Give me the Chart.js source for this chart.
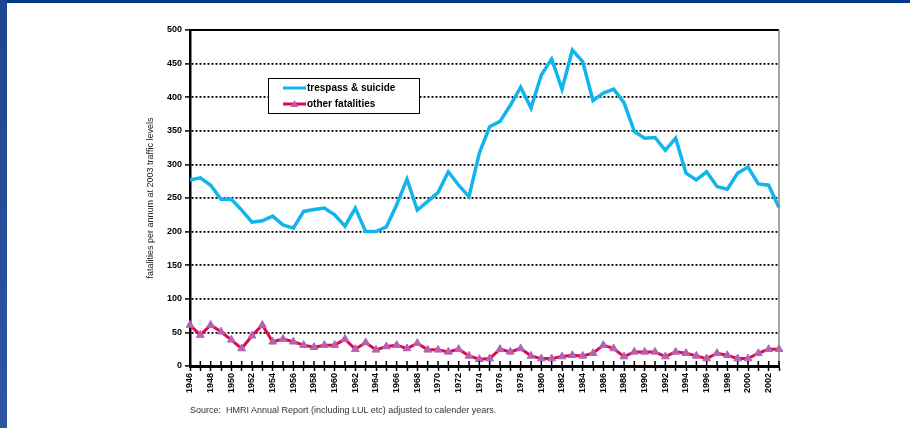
<!DOCTYPE html>
<html>
<head>
<meta charset="utf-8">
<script src="https://cdn.jsdelivr.net/npm/chart.js@4.4.1/dist/chart.umd.min.js"></script>
<style>
  html, body { margin: 0; padding: 0; background: #fff; }
  #wrap { position: relative; width: 910px; height: 428px; overflow: hidden; background: #fff; }
  #topbar { position: absolute; left: 0; top: 0; width: 910px; height: 3px; background: #003a85; }
  #leftbar { position: absolute; left: 0; top: 0; width: 7px; height: 428px; background: linear-gradient(#1f4690, #2d55a2); }
  #chart { position: absolute; left: 0; top: 0; }
  #source { position: absolute; left: 190px; top: 405px; font: 9px Arial, "Liberation Sans", sans-serif; color: #333; white-space: pre; }
</style>
</head>
<body>
<div id="wrap">
  <canvas id="chart" width="910" height="428"></canvas>
  <div id="topbar"></div>
  <div id="leftbar"></div>
  <div id="source">Source:  HMRI Annual Report (including LUL etc) adjusted to calender years.</div>
</div>
<script>
// years 1946 - 2003
var years = [];
for (var y = 1946; y <= 2003; y++) years.push(String(y));

// fatalities per annum at 2003 traffic levels
var trespassSuicide = [
    277, 280, 269, 248, 248, 232, 214, 216, 223, 210,
    205, 230, 233, 235, 225, 208, 235, 200, 200, 207,
    240, 278, 232, 245, 258, 289, 269, 252, 317, 356,
    364, 388, 415, 384, 433, 457, 412, 470, 453, 395,
    406, 412, 392, 349, 339, 340, 321, 339, 287, 277,
    289, 267, 263, 287, 296, 271, 269, 236
];
var otherFatalities = [
    61, 46, 61, 51, 39, 26, 45, 61, 36, 40,
    36, 31, 28, 31, 31, 40, 25, 35, 24, 29,
    31, 26, 34, 24, 24, 21, 25, 15, 10, 11,
    25, 21, 26, 15, 11, 11, 14, 16, 15, 19,
    31, 26, 14, 21, 21, 21, 14, 21, 19, 15,
    11, 19, 16, 11, 11, 19, 25, 25
];
var yTicks = { min: 0, max: 500, step: 50 };

// top and right edge of the plot area
var plotFrame = {
    id: 'plotFrame',
    afterDraw: function (chart) {
        var a = chart.chartArea, ctx = chart.ctx;
        ctx.save();
        ctx.strokeStyle = '#000';
        ctx.lineWidth = 2;
        ctx.beginPath();
        ctx.moveTo(a.left, a.top);
        ctx.lineTo(a.right, a.top);
        ctx.stroke();
        ctx.strokeStyle = '#888';
        ctx.lineWidth = 1.5;
        ctx.beginPath();
        ctx.moveTo(a.right, a.top);
        ctx.lineTo(a.right, a.bottom);
        ctx.stroke();
        // year ticks cross the axis
        var xs = chart.scales.x;
        ctx.strokeStyle = '#000';
        ctx.lineWidth = 1.5;
        ctx.beginPath();
        for (var i = 0; i < years.length; i++) {
            var px = xs.getPixelForTick(i);
            ctx.moveTo(px, a.bottom - 5);
            ctx.lineTo(px, a.bottom);
        }
        ctx.stroke();
        ctx.restore();
    }
};

// legend box inside the plot
var boxLegend = {
    id: 'boxLegend',
    afterDraw: function (chart) {
        var ctx = chart.ctx;
        var x = 268, y = 78, w = 151, h = 35;
        ctx.save();
        ctx.fillStyle = '#fff';
        ctx.fillRect(x, y, w, h);
        ctx.strokeStyle = '#000';
        ctx.lineWidth = 1;
        ctx.strokeRect(x + 0.5, y + 0.5, w, h);
        ctx.font = 'bold 10px Arial, "Liberation Sans", sans-serif';
        ctx.textBaseline = 'middle';
        chart.data.datasets.forEach(function (ds, i) {
            var ly = y + 10 + i * 16;
            ctx.strokeStyle = ds.borderColor;
            ctx.lineWidth = 3;
            ctx.beginPath();
            ctx.moveTo(x + 15, ly);
            ctx.lineTo(x + 38, ly);
            ctx.stroke();
            if (ds.pointRadius > 0) {
                ctx.fillStyle = ds.pointBackgroundColor;
                ctx.beginPath();
                ctx.moveTo(x + 26.5, ly - 4);
                ctx.lineTo(x + 30.5, ly + 3);
                ctx.lineTo(x + 22.5, ly + 3);
                ctx.closePath();
                ctx.fill();
            }
            ctx.fillStyle = '#000';
            ctx.fillText(ds.label, x + 39, ly);
        });
        ctx.restore();
    }
};

new Chart(document.getElementById('chart'), {
    type: 'line',
    data: {
        labels: years,
        datasets: [
            {
                label: 'trespass & suicide',
                data: trespassSuicide,
                borderColor: '#12b4ec',
                borderWidth: 3.5,
                pointRadius: 0,
                tension: 0,
                fill: false
            },
            {
                label: 'other fatalities',
                data: otherFatalities,
                borderColor: '#dc0a4e',
                borderWidth: 3,
                pointStyle: 'triangle',
                pointRadius: 4.5,
                pointBackgroundColor: '#b463b2',
                pointBorderColor: '#b463b2',
                pointBorderWidth: 1,
                tension: 0,
                fill: false
            }
        ]
    },
    options: {
        responsive: false,
        animation: false,
        layout: { padding: { left: 140, right: 131, top: 30, bottom: 20 } },
        plugins: {
            legend: { display: false },
            tooltip: { enabled: false }
        },
        scales: {
            x: {
                type: 'category',
                offset: false,
                afterFit: function (s) { s.height = 42; },
                border: { display: true, color: '#000', width: 3 },
                grid: {
                    display: true,
                    drawOnChartArea: false,
                    drawTicks: true,
                    tickLength: 5,
                    tickWidth: 1.5,
                    tickColor: '#000'
                },
                ticks: {
                    autoSkip: false,
                    maxRotation: 90,
                    minRotation: 90,
                    padding: 2,
                    color: '#000',
                    font: { family: 'Arial, "Liberation Sans", sans-serif', size: 9, weight: 'bold' },
                    callback: function (v, i) { return i % 2 === 0 ? years[i] : ''; }
                }
            },
            y: {
                min: yTicks.min,
                max: yTicks.max,
                afterFit: function (s) { s.width = 50; },
                border: { display: true, color: '#000', width: 2.5, dash: [2, 2] },
                grid: {
                    color: function (c) {
                        return (c.tick.value === yTicks.min || c.tick.value === yTicks.max) ? 'rgba(0,0,0,0)' : '#000';
                    },
                    lineWidth: 1.8,
                    drawTicks: true,
                    tickLength: 5,
                    tickColor: '#000',
                    tickWidth: 1.5,
                    tickBorderDash: []
                },
                ticks: {
                    stepSize: yTicks.step,
                    padding: 3,
                    color: '#000',
                    font: { family: 'Arial, "Liberation Sans", sans-serif', size: 9, weight: 'bold' }
                },
                title: {
                    display: true,
                    text: 'fatalities per annum at 2003 traffic levels',
                    color: '#222',
                    padding: { top: 5, bottom: 0 },
                    font: { family: 'Arial, "Liberation Sans", sans-serif', size: 9 }
                }
            }
        }
    },
    plugins: [plotFrame, boxLegend]
});
</script>
</body>
</html>
